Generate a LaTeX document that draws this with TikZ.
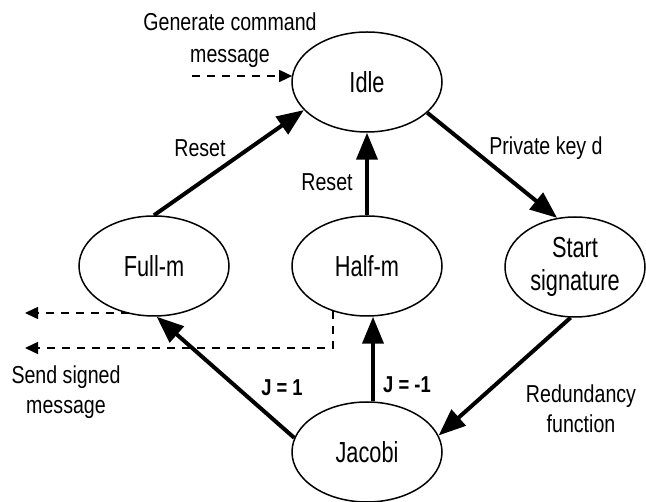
\documentclass[tikz,border=0pt]{standalone}
\usepackage{fontspec}
\setmainfont{Liberation Sans}
\newfontfamily\statefont[FakeStretch=0.75]{Liberation Sans}
\newfontfamily\notefont[FakeStretch=0.8]{Liberation Sans}
\usetikzlibrary{arrows.meta,shapes.geometric}

\begin{document}
\begin{tikzpicture}[x=1pt,y=-1pt,
  state/.style={draw, ellipse, line width=1.5pt, minimum width=150pt,
    minimum height=100pt, inner sep=0pt, align=center,
    font=\statefont\fontsize{29}{33}\selectfont},
  note/.style={align=center, inner sep=0pt,
    font=\notefont\fontsize{24.5}{30}\selectfont},
  cond/.style={inner sep=0pt, font=\notefont\bfseries\fontsize{23}{26}\selectfont},
  trans/.style={line width=4pt, -{Triangle[length=27pt,width=21pt]}},
  msg/.style={line width=1.5pt, dash pattern=on 8pt off 7pt,
    -{Triangle[length=13pt,width=12pt]}},
]
\useasboundingbox (0,0) rectangle (646,502);

% states
\node[state] (idle)   at (367,82)  {Idle};
\node[state] (full)   at (154,266) {Full-m};
\node[state] (half)   at (367,266) {Half-m};
\node[state, minimum width=140pt] (start) at (575,267) {Start\\signature};
\node[state] (jacobi) at (367,452) {Jacobi};

% transitions
\draw[trans] (full.north) -- (idle.204);
\draw[trans] (half.north) -- (idle.south);
\draw[trans] (idle.-27) -- (start.110);
\draw[trans] (start.-95) -- (jacobi.13);
\draw[trans] (jacobi.169) -- (full.-87);
\draw[trans] ([xshift=6pt]jacobi.north) -- ([xshift=6pt]half.south);

% message flow
\coordinate (gen) at (192,76);
\draw[msg] (gen) -- (gen -| idle.174);
\coordinate (out1) at (25,313);
\draw[msg] (out1 -| full.-118) -- (out1);
\coordinate (out2) at (25,348);
\draw[msg] (half.-127) -- (half.-127 |- out2) -- (out2);

% labels
\node[note, font=\notefont\fontsize{24.5}{32}\selectfont] (lgen) at (230,40) {Generate command\\message};
\node[note] (lreset1) at (200,148) {Reset};
\node[note] (lreset2) at (327,182) {Reset};
\node[note] (lkey)   at (546,148) {Private key d};
\node[note] (lred)   at (581,409) {Redundancy\\function};
\node[note] (lsend)  at (66,392)  {Send signed\\message};
\node[cond] (lj1)    at (282,388) {J = 1};
\node[cond] (lj2)    at (407,385) {J = -1};
\end{tikzpicture}
\end{document}
